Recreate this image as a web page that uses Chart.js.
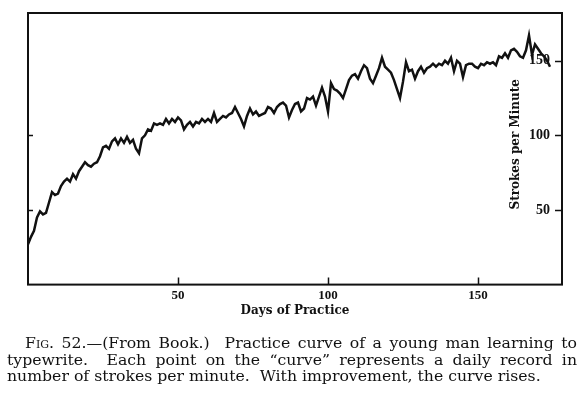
<!DOCTYPE html>
<html>
<head>
<meta charset="utf-8">
<script src="https://cdn.jsdelivr.net/npm/chart.js@4.4.1/dist/chart.umd.min.js"></script>
<style>
  html, body { margin: 0; padding: 0; background: #fff; }
  #wrap { position: relative; width: 587px; height: 399px; overflow: hidden; }
  #chart { position: absolute; left: 0; top: 0; }
  #caption {
    position: absolute; left: 7px; top: 335px; width: 570px;
    font-family: "DejaVu Serif", serif; font-size: 15.7px; line-height: 16.6px; color: #111;
  }
  #caption div { text-align: justify; white-space: nowrap; }
  #caption .full { text-align-last: justify; }
  #caption .first { padding-left: 18px; }
  .sc { font-variant: small-caps; }
</style>
</head>
<body>
<div id="wrap">
  <canvas id="chart" width="587" height="399"></canvas>
  <div id="caption">
    <div class="full first">F<span class="sc">ig</span>. 52.—(From Book.)&nbsp; Practice curve of a young man learning to</div>
    <div class="full">typewrite.&nbsp; Each point on the “curve” represents a daily record in</div>
    <div>number of strokes per minute.&nbsp; With improvement, the curve rises.</div>
  </div>
</div>
<script>
// Practice curve data, one record per day
const days = [];
const strokes = [
  27, 32, 36, 45, 49, 47, 48, 55, 62, 60,
  61, 66, 69, 71, 69, 74, 71, 76, 79, 82,
  80, 79, 81, 82, 86, 92, 93, 91, 96, 98,
  94, 98, 95, 99, 95, 97, 91, 88, 98, 100,
  104, 103, 108, 107, 108, 107, 111, 108, 111, 109,
  112, 110, 104, 107, 109, 106, 109, 108, 111, 109,
  111, 109, 115, 109, 111, 113, 112, 114, 115, 119,
  115, 111, 106, 113, 118, 114, 116, 113, 114, 115,
  119, 118, 115, 119, 121, 122, 120, 112, 117, 121,
  122, 116, 118, 125, 124, 126, 120, 126, 132, 126,
  116, 135, 131, 130, 128, 125, 131, 137, 140, 141,
  138, 143, 147, 145, 138, 135, 140, 145, 152, 146,
  144, 142, 137, 131, 125, 136, 149, 143, 144, 138,
  143, 146, 142, 145, 146, 148, 146, 148, 147, 150,
  148, 152, 143, 150, 148, 139, 147, 148, 148, 146,
  145, 148, 147, 149, 148, 149, 147, 153, 152, 155,
  152, 157, 158, 156, 153, 152, 157, 167, 154, 161,
  158, 155, 153, 150, 146
];
for (let i = 0; i < strokes.length; i++) days.push(i);

const xTickValues = [50, 100, 150];
const yTickValues = [50, 100, 150];
const yLeftTickValues = [50, 100];
const xTitle = 'Days of Practice';
const yTitle = 'Strokes per Minute';

const ink = '#111';

// frame, inward tick marks and the vertical axis title
const framePlugin = {
  id: 'frame',
  afterDatasetsDraw(chart) {
    const { ctx, chartArea: a, scales } = chart;
    ctx.save();
    ctx.strokeStyle = ink;
    ctx.lineWidth = 2;
    ctx.strokeRect(a.left, a.top, a.right - a.left, a.bottom - a.top);

    ctx.lineWidth = 1.5;
    ctx.beginPath();
    xTickValues.forEach(v => {
      const x = Math.round(scales.x.getPixelForValue(v)) + 0.5;
      ctx.moveTo(x, a.bottom);
      ctx.lineTo(x, a.bottom - 7);
    });
    yTickValues.forEach(v => {
      const y = Math.round(scales.y.getPixelForValue(v)) + 0.5;
      ctx.moveTo(a.right, y);
      ctx.lineTo(a.right - 7, y);
    });
    yLeftTickValues.forEach(v => {
      const y = Math.round(scales.y.getPixelForValue(v)) + 0.5;
      ctx.moveTo(a.left, y);
      ctx.lineTo(a.left + 5, y);
    });
    ctx.stroke();

    ctx.translate(a.right - 46, scales.y.getPixelForValue(94));
    ctx.rotate(-Math.PI / 2);
    ctx.fillStyle = ink;
    ctx.font = 'bold 12px "DejaVu Serif", serif';
    ctx.textAlign = 'center';
    ctx.textBaseline = 'middle';
    ctx.fillText(yTitle, 0, 0);
    ctx.restore();
  }
};

new Chart(document.getElementById('chart'), {
  type: 'line',
  data: {
    labels: days,
    datasets: [{
      data: strokes,
      borderColor: ink,
      borderWidth: 2.5,
      pointRadius: 0,
      tension: 0,
      fill: false
    }]
  },
  options: {
    responsive: false,
    animation: false,
    layout: { padding: { left: 28, right: 25, top: 13, bottom: 81 } },
    plugins: {
      legend: { display: false },
      tooltip: { enabled: false }
    },
    scales: {
      x: {
        type: 'linear',
        min: 0,
        max: 178,
        afterBuildTicks: s => { s.ticks = xTickValues.map(v => ({ value: v })); },
        grid: { display: false, drawTicks: false },
        border: { display: false },
        ticks: {
          padding: 5,
          maxRotation: 0,
          color: ink,
          font: { family: '"Liberation Serif", serif', size: 13, weight: 'bold', lineHeight: 1 }
        },
        title: {
          display: true,
          text: xTitle,
          color: ink,
          padding: { top: -4, bottom: 0 },
          font: { family: '"DejaVu Serif", serif', size: 12, weight: 'bold' }
        }
      },
      y: {
        position: 'right',
        min: 0,
        max: 182,
        afterBuildTicks: s => { s.ticks = yTickValues.map(v => ({ value: v })); },
        afterFit: s => { s.width = 0; },
        grid: { display: false, drawTicks: false },
        border: { display: false },
        ticks: {
          mirror: true,
          padding: -12,
          color: ink,
          font: { family: '"Liberation Serif", serif', size: 14, weight: 'bold' }
        }
      }
    }
  },
  plugins: [framePlugin]
});
</script>
</body>
</html>
